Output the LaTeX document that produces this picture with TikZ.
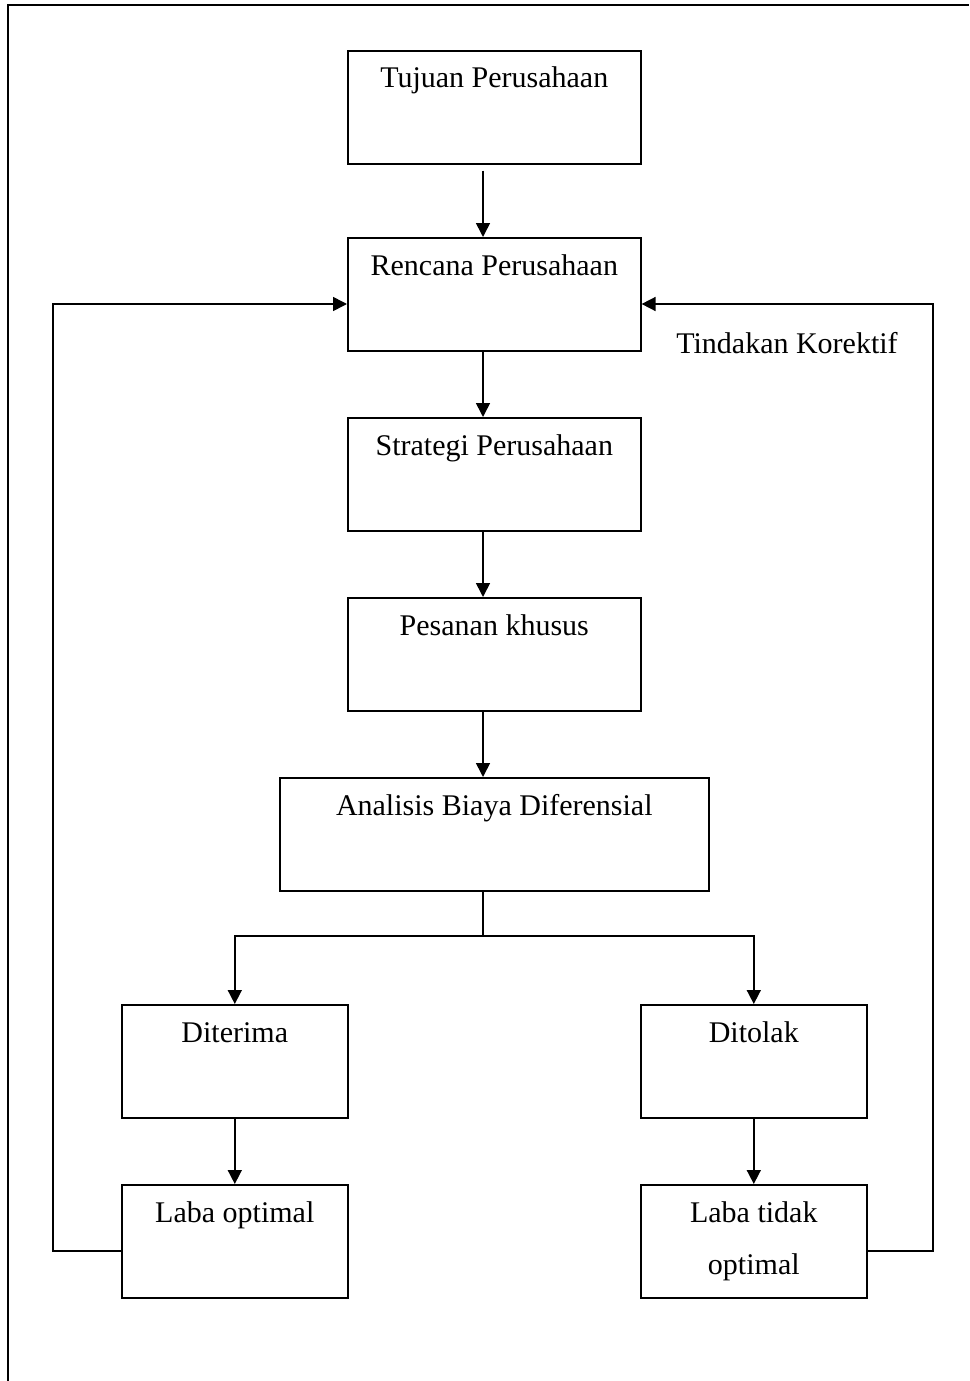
\documentclass[tikz,border=0pt]{standalone}
\usepackage{fontspec}
\setmainfont{Liberation Serif}
\usetikzlibrary{arrows.meta}
\begin{document}
\begin{tikzpicture}[x=1pt,y=-1pt,
  box/.style={draw, line width=1.6pt, minimum height=113pt, inner sep=0pt, anchor=north west},
  txt/.style={font=\fontsize{30}{36}\selectfont, anchor=base, inner sep=0pt},
  link/.style={line width=1.6pt},
  arr/.style={link, -{Triangle[length=14pt,width=14pt]}}]
\useasboundingbox (0,0) rectangle (969,1381);
\draw[link] (8,1381) -- (8,5) -- (969,5);
% boxes
\node[box, minimum width=293pt] (tuj) at (347,50) {};
\node[box, minimum width=293pt] (ren) at (347,237) {};
\node[box, minimum width=293pt] (str) at (347,417) {};
\node[box, minimum width=293pt] (pes) at (347,597) {};
\node[box, minimum width=429pt] (ana) at (279,777) {};
\node[box, minimum width=226pt] (dit) at (121,1004) {};
\node[box, minimum width=226pt] (tol) at (640,1004) {};
\node[box, minimum width=226pt] (lo) at (121,1184) {};
\node[box, minimum width=226pt] (lto) at (640,1184) {};
% texts
\node[txt] (tujT) at ([yshift=-38pt]tuj.north) {Tujuan Perusahaan};
\node[txt] (renT) at ([yshift=-38pt]ren.north) {Rencana Perusahaan};
\node[txt] (strT) at ([yshift=-38pt]str.north) {Strategi Perusahaan};
\node[txt] (pesT) at ([yshift=-38pt]pes.north) {Pesanan khusus};
\node[txt] (anaT) at ([yshift=-38pt]ana.north) {Analisis Biaya Diferensial};
\node[txt] (ditT) at ([yshift=-38pt]dit.north) {Diterima};
\node[txt] (tolT) at ([yshift=-38pt]tol.north) {Ditolak};
\node[txt] (loT) at ([yshift=-38pt]lo.north) {Laba optimal};
\node[txt] (ltoT1) at ([yshift=-38pt]lto.north) {Laba tidak};
\node[txt] (ltoT2) at ([yshift=-90pt]lto.north) {optimal};
\node[txt] (kor) at (787,353) {Tindakan Korektif};
% connectors
\coordinate (sp) at (483,0);
\draw[arr] ([yshift=-6pt]tuj.south -| sp) -- (ren.north -| sp);
\draw[arr] (ren.south -| sp) -- (str.north -| sp);
\draw[arr] (str.south -| sp) -- (pes.north -| sp);
\draw[arr] (pes.south -| sp) -- (ana.north -| sp);
\coordinate (split) at (483,936);
\draw[link] (ana.south -| sp) -- (split);
\draw[arr] (split) -| (dit.north);
\draw[arr] (split) -| (tol.north);
\draw[arr] (dit.south) -- (lo.north);
\draw[arr] (tol.south) -- (lto.north);
\coordinate (fbL) at (53,1251);
\coordinate (fbR) at (933,1251);
\coordinate (fbTop) at (0,304);
\draw[arr] (lo.west |- fbL) -- (fbL) -- (fbL |- fbTop) -- (ren.west |- fbTop);
\draw[arr] (lto.east |- fbR) -- (fbR) -- (fbR |- fbTop) -- (ren.east |- fbTop);
\end{tikzpicture}
\end{document}
